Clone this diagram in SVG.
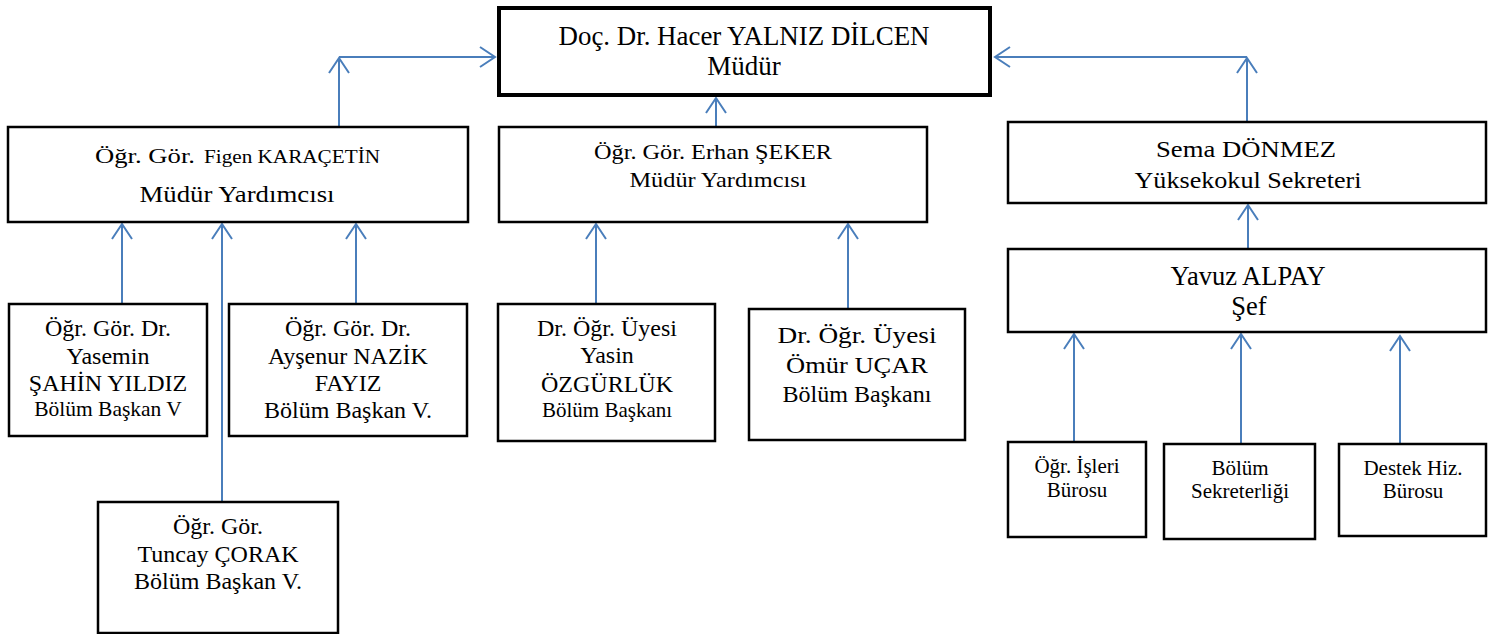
<svg xmlns="http://www.w3.org/2000/svg" width="1491" height="634" viewBox="0 0 1491 634">
<style>
.box{fill:#ffffff;stroke:#000000;stroke-width:2.5}
.main{fill:#ffffff;stroke:#000000;stroke-width:4}
text{font-family:"Liberation Serif","Times New Roman",serif;fill:#000000;text-anchor:middle}
.s{text-anchor:start}
.c{fill:none;stroke:#4a7ebb;stroke-width:2;marker-end:url(#arr)}
</style>
<defs>
<marker id="arr" markerUnits="userSpaceOnUse" orient="auto" refX="0" refY="0" markerWidth="20" markerHeight="24" viewBox="-17 -12 20 24" overflow="visible">
<path d="M-15,-10 L0,0 L-15,10" fill="none" stroke="#4a7ebb" stroke-width="2"/>
</marker>
</defs>
<rect width="1491" height="634" fill="#ffffff"/>

<g id="connectors">
<line class="c" x1="339" y1="127" x2="339" y2="58"/>
<line class="c" x1="339" y1="57" x2="495" y2="57"/>
<line class="c" x1="716" y1="127" x2="716" y2="98"/>
<line class="c" x1="1247" y1="122" x2="1247" y2="58"/>
<line class="c" x1="1247" y1="57" x2="995" y2="57"/>
<line class="c" x1="1248" y1="249" x2="1248" y2="205"/>
<line class="c" x1="122" y1="303" x2="122" y2="224"/>
<line class="c" x1="222" y1="501" x2="222" y2="224"/>
<line class="c" x1="356" y1="303" x2="356" y2="224"/>
<line class="c" x1="596" y1="308" x2="596" y2="224"/>
<line class="c" x1="848" y1="308" x2="848" y2="224"/>
<line class="c" x1="1074" y1="442" x2="1074" y2="334"/>
<line class="c" x1="1241" y1="443" x2="1241" y2="334"/>
<line class="c" x1="1400" y1="443" x2="1400" y2="336"/>
</g>

<g id="mudur">
<rect class="main" x="499" y="8" width="491" height="87"/>
<text x="744" y="45" font-size="27" textLength="371" lengthAdjust="spacingAndGlyphs">Doç. Dr. Hacer YALNIZ DİLCEN</text>
<text x="744" y="75" font-size="27">Müdür</text>
</g>

<g id="figen">
<rect class="box" x="8" y="127" width="460" height="95"/>
<text class="s" x="95" y="163" font-size="22" textLength="100" lengthAdjust="spacingAndGlyphs">Öğr. Gör.</text>
<text class="s" x="204" y="163" font-size="18.5" textLength="176" lengthAdjust="spacingAndGlyphs">Figen KARAÇETİN</text>
<text x="237" y="202" font-size="22.5" textLength="195" lengthAdjust="spacingAndGlyphs">Müdür Yardımcısı</text>
</g>

<g id="erhan">
<rect class="box" x="499" y="127" width="428" height="95"/>
<text x="713" y="159" font-size="21" textLength="238" lengthAdjust="spacingAndGlyphs">Öğr. Gör. Erhan ŞEKER</text>
<text x="718" y="187" font-size="21" textLength="177" lengthAdjust="spacingAndGlyphs">Müdür Yardımcısı</text>
</g>

<g id="sema">
<rect class="box" x="1008" y="122" width="478" height="81"/>
<text x="1246" y="157" font-size="23" textLength="180" lengthAdjust="spacingAndGlyphs">Sema DÖNMEZ</text>
<text x="1248" y="188" font-size="23" textLength="227" lengthAdjust="spacingAndGlyphs">Yüksekokul Sekreteri</text>
</g>

<g id="yavuz">
<rect class="box" x="1008" y="249" width="478" height="83"/>
<text x="1248" y="285" font-size="26.5">Yavuz ALPAY</text>
<text x="1249" y="315" font-size="26.5">Şef</text>
</g>

<g id="yasemin">
<rect class="box" x="9" y="304" width="198" height="132"/>
<text x="108" y="336" font-size="24">Öğr. Gör. Dr.</text>
<text x="108" y="364" font-size="24">Yasemin</text>
<text x="108" y="391" font-size="24">ŞAHİN YILDIZ</text>
<text x="108" y="416" font-size="21.5">Bölüm Başkan V</text>
</g>

<g id="aysenur">
<rect class="box" x="229" y="304" width="238" height="132"/>
<text x="348" y="336" font-size="24">Öğr. Gör. Dr.</text>
<text x="348" y="364" font-size="24">Ayşenur NAZİK</text>
<text x="348" y="391" font-size="24">FAYIZ</text>
<text x="348" y="418" font-size="24">Bölüm Başkan V.</text>
</g>

<g id="tuncay">
<rect class="box" x="98" y="502" width="240" height="131"/>
<text x="218" y="534" font-size="24">Öğr. Gör.</text>
<text x="218" y="562" font-size="24">Tuncay ÇORAK</text>
<text x="218" y="589" font-size="24">Bölüm Başkan V.</text>
</g>

<g id="yasin">
<rect class="box" x="498" y="304" width="217" height="137"/>
<text x="607" y="336" font-size="24">Dr. Öğr. Üyesi</text>
<text x="607" y="363" font-size="24">Yasin</text>
<text x="607" y="392" font-size="24">ÖZGÜRLÜK</text>
<text x="607" y="417" font-size="21">Bölüm Başkanı</text>
</g>

<g id="omur">
<rect class="box" x="749" y="309" width="216" height="131"/>
<text x="857" y="343" font-size="23" textLength="159" lengthAdjust="spacingAndGlyphs">Dr. Öğr. Üyesi</text>
<text x="857" y="373" font-size="23" textLength="142" lengthAdjust="spacingAndGlyphs">Ömür UÇAR</text>
<text x="857" y="402" font-size="23" textLength="149" lengthAdjust="spacingAndGlyphs">Bölüm Başkanı</text>
</g>

<g id="ogr-isleri">
<rect class="box" x="1008" y="442" width="138" height="95"/>
<text x="1077" y="473" font-size="21">Öğr. İşleri</text>
<text x="1077" y="497" font-size="21">Bürosu</text>
</g>

<g id="bolum-sekreterligi">
<rect class="box" x="1164" y="444" width="151" height="95"/>
<text x="1240" y="475" font-size="21">Bölüm</text>
<text x="1240" y="498" font-size="21">Sekreterliği</text>
</g>

<g id="destek">
<rect class="box" x="1339" y="444" width="147" height="92"/>
<text x="1413" y="475" font-size="21">Destek Hiz.</text>
<text x="1413" y="498" font-size="21">Bürosu</text>
</g>
</svg>
